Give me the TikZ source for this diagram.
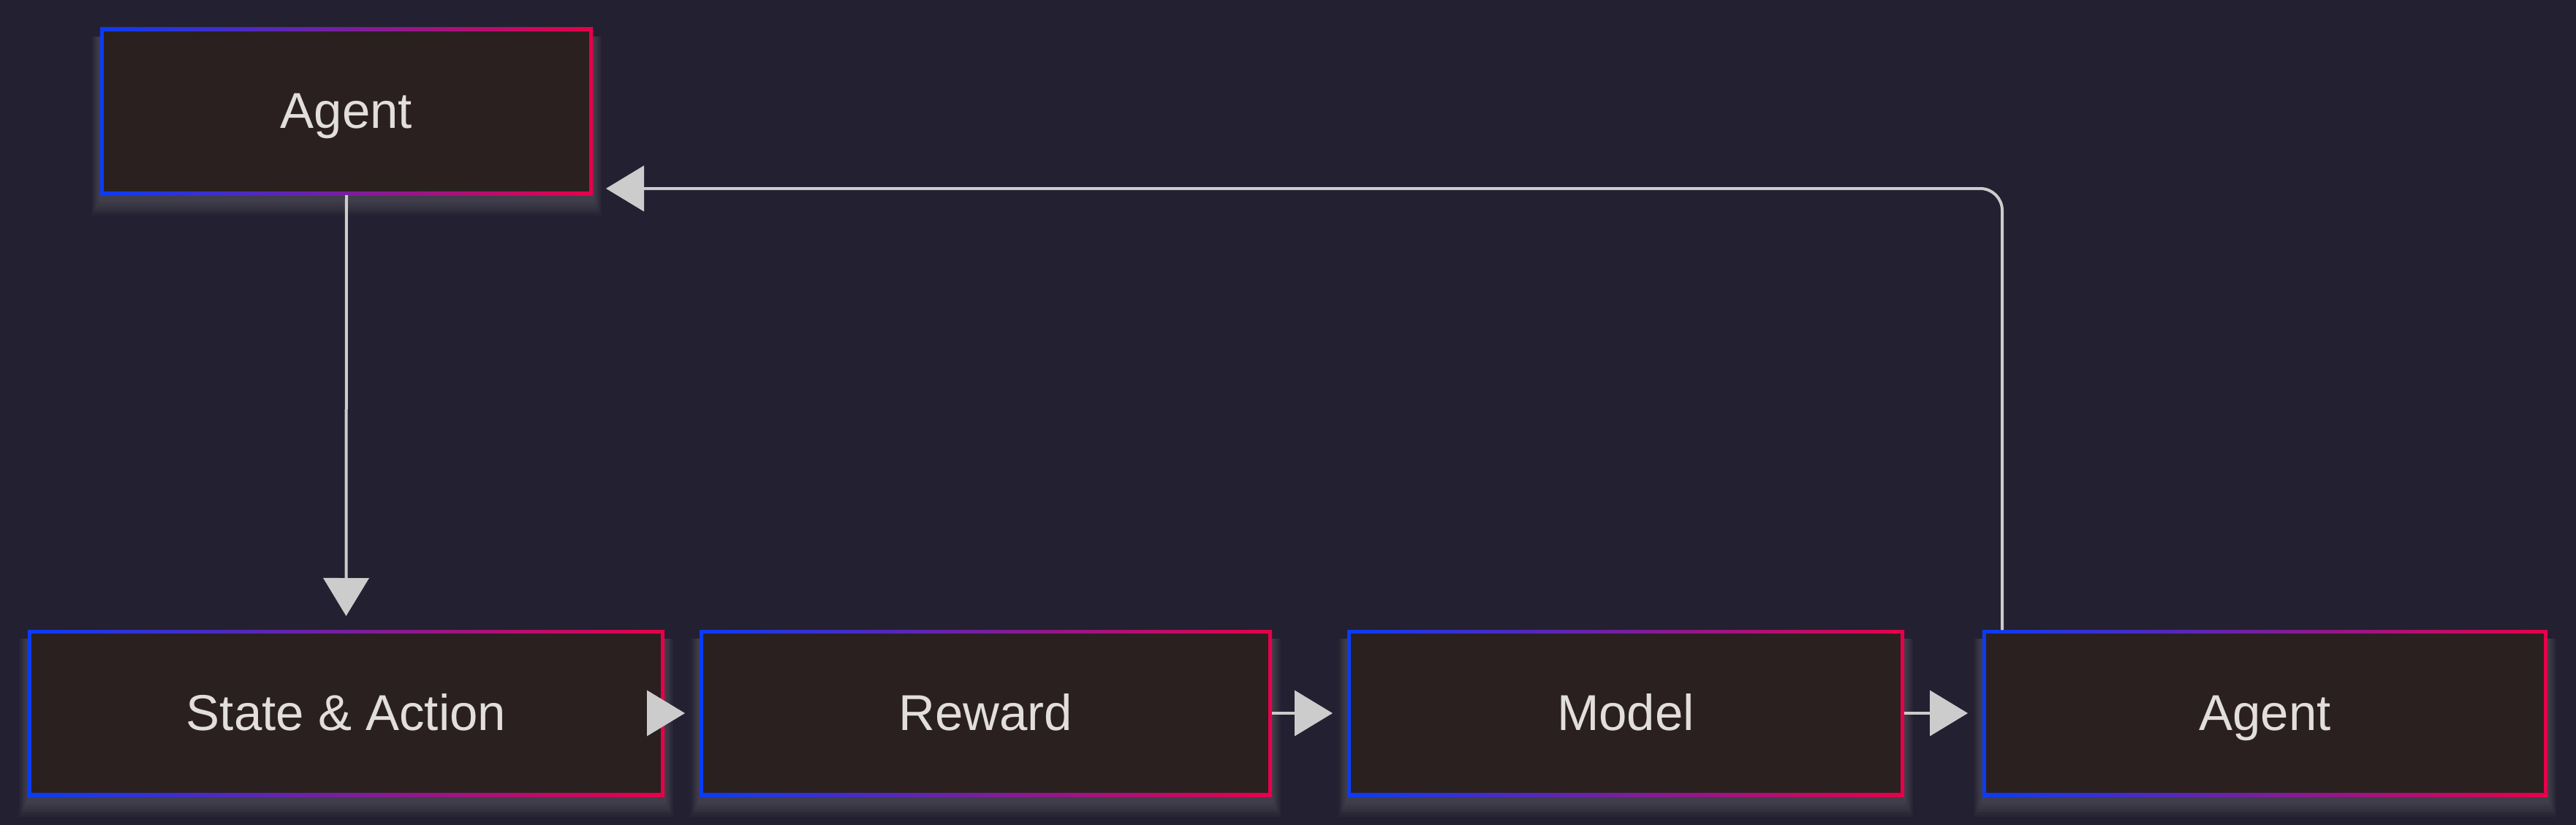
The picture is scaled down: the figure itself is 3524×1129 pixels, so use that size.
\documentclass[tikz,border=0pt]{standalone}
\usepackage{fontspec}
\setmainfont{Liberation Sans}
\usetikzlibrary{arrows.meta,calc}
\definecolor{bg}{RGB}{35,33,49}
\definecolor{boxfill}{RGB}{43,32,32}
\definecolor{gblue}{RGB}{10,60,245}
\definecolor{gred}{RGB}{232,0,72}
\definecolor{txt}{RGB}{226,222,222}
\definecolor{linec}{RGB}{204,204,204}
\tikzset{
  boxanchor/.style={inner sep=0pt, outer sep=0pt, draw=none},
  lbl/.style={inner sep=0pt, outer sep=0pt, text=txt, font=\fontsize{34.5pt}{40pt}\selectfont, text height=23pt, text depth=0pt, anchor=center},
  arr/.style={draw=linec, line width=2pt, -{Triangle[length=26pt,width=31pt]}},
  glow/.style={fill=white, opacity=0.018},
}
% name, cx, cy, w, h, text  (all in px)
\newcommand{\gradbox}[6]{%
  \foreach \e in {3,6,...,24}{%
    \fill[glow] (#2-#4/2-\e*0.5, #3-#5/2+12) rectangle (#2+#4/2+\e*0.5, #3+#5/2+6+\e*0.9);
  }
  \shade[left color=gblue, right color=gred] (#2-#4/2, #3-#5/2) rectangle (#2+#4/2, #3+#5/2);
  \fill[boxfill] (#2-#4/2+5, #3-#5/2+5) rectangle (#2+#4/2-5, #3+#5/2-5);
  \node[boxanchor, minimum width=#4*0.5pt, minimum height=#5*0.5pt] (#1) at (#2,#3) {};
  \node[lbl] (#1-t) at (#1.center) {#6};
}
\begin{document}
\begin{tikzpicture}[x=0.5pt, y=-0.5pt]
  \fill[bg] (0,0) rectangle (3524,1129);
  \useasboundingbox (0,0) rectangle (3524,1129);
  \gradbox{A1}{474}{152.5}{674}{229}{Agent}
  \gradbox{SA}{473.5}{976}{871}{228}{State \& Action}
  \gradbox{R}{1348.5}{976}{783}{228}{Reward}
  \gradbox{M}{2224}{976}{762}{228}{Model}
  \gradbox{A2}{3098.5}{976}{773}{228}{Agent}
  \draw[arr] (A1.south) -- ([yshift=9.5pt]SA.north);
  \draw[arr] (SA.east) -- ([xshift=-10pt]R.west);
  \draw[arr] (R.east) -- ([xshift=-10pt]M.west);
  \draw[arr] (M.east) -- ([xshift=-10pt]A2.west);
  \draw[arr, rounded corners=15pt] ([xshift=13.5pt]A2.north west) |- ([xshift=9pt, yshift=4.5pt]A1.south east);
\end{tikzpicture}
\end{document}
